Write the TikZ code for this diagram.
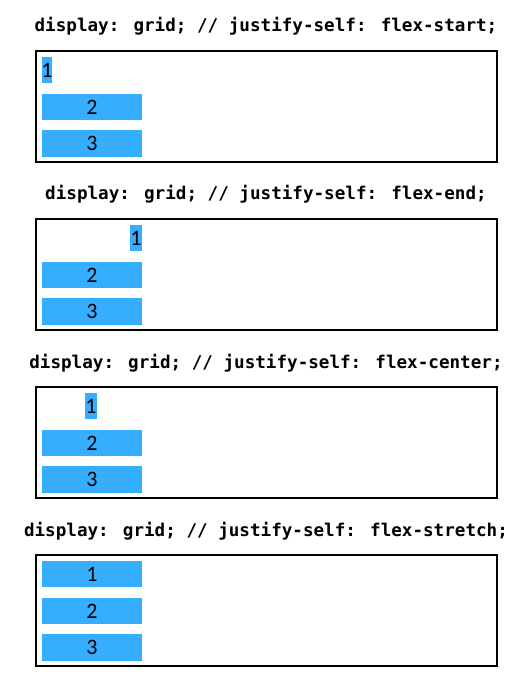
\documentclass[tikz,border=0pt]{standalone}
\usepackage{fontspec}
\newfontfamily\titlefont{DejaVu Sans Mono}
\newfontfamily\numfont{Carlito}
\definecolor{itemblue}{RGB}{54,174,255}
\begin{document}
\begin{tikzpicture}[x=1pt,y=-1pt,
  paneltitle/.style={anchor=base,font=\titlefont\bfseries\fontsize{17.6}{20}\selectfont,inner sep=0},
  panelbox/.style={draw=black,line width=1.2pt},
  itemnum/.style={inner sep=0,font=\numfont\fontsize{22}{24}\selectfont}]
\useasboundingbox (0,0) rectangle (517,684);
\foreach \k/\t/\ax/\bx in {0/flex-start/42/52, 1/flex-end/130/142, 2/flex-center/85/97, 3/flex-stretch/42/142}{
  \pgfmathsetmacro{\o}{168*\k}
  \node[paneltitle] (t\k) at (266,{32+\o}) {display: grid; // justify-self: \t;};
  \draw[panelbox] (36,{51+\o}) rectangle (497,{162+\o});
  \fill[itemblue] (\ax,{57+\o}) rectangle (\bx,{83+\o});
  \node[itemnum] (a\k) at ({(\ax+\bx)/2},{70+\o}) {1};
  \fill[itemblue] (42,{94+\o}) rectangle (142,{120+\o});
  \node[itemnum] (b\k) at (92,{107+\o}) {2};
  \fill[itemblue] (42,{130+\o}) rectangle (142,{157+\o});
  \node[itemnum] (c\k) at (92,{143.5+\o}) {3};
}
\end{tikzpicture}
\end{document}
